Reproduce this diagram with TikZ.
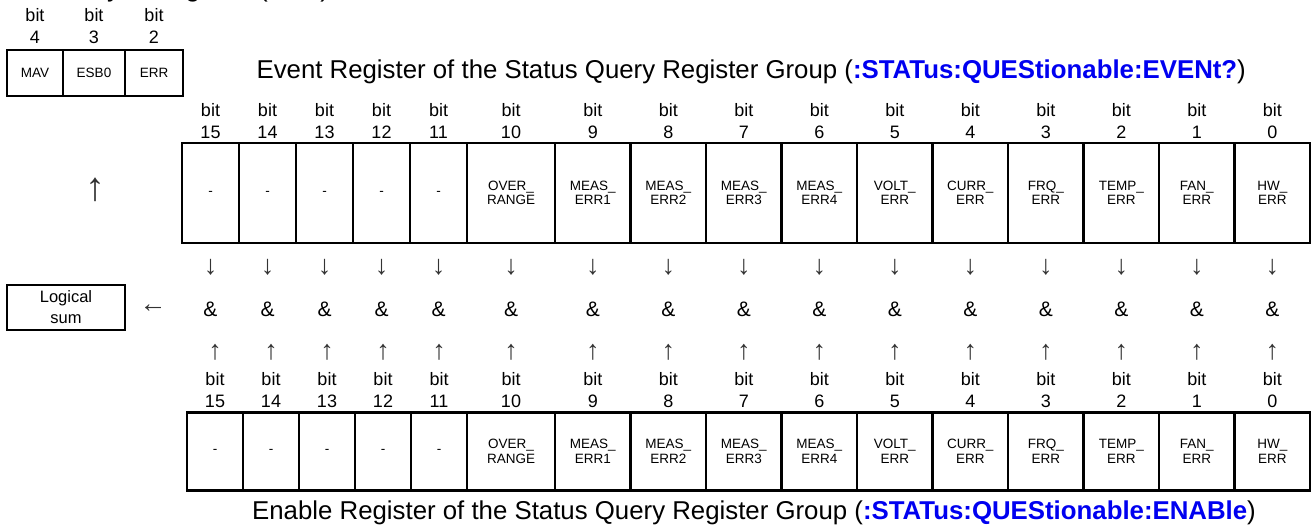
\documentclass[tikz,border=0pt]{standalone}
\usepackage{fontspec}
\setmainfont{Liberation Sans}
\definecolor{cmdblue}{RGB}{0,0,240}
\newcommand\myfs[2]{\fontsize{#1}{#2}\selectfont}
\begin{document}
\begin{tikzpicture}[x=1pt,y=-1pt,
  cell/.style={draw, line width=2.6pt, inner sep=0pt, align=center, font=\myfs{13.5}{14.5}},
  bitlbl/.style={align=center, font=\myfs{18}{22}, inner sep=0pt},
  glyph/.style={font=\myfs{27}{28}, inner sep=0pt, text=black!80},
  amp/.style={font=\myfs{21}{22}, inner sep=0pt},
  heading/.style={font=\myfs{25.8}{28}, inner sep=0pt, anchor=east}
]
\useasboundingbox (0,0) rectangle (1311,530);

% clipped title at the very top
\node[anchor=base west, inner sep=0pt, font=\myfs{27}{30}] (stbtitle) at (5,-4) {Status Byte Register (STB)};

% status byte bits
\foreach \l/\r/\b/\t in {7/63/4/MAV, 63/125/3/ESB0, 125/183/2/ERR}{
  \node[cell, minimum width={\r-\l}, minimum height=46] (s\b) at ({(\l+\r)/2},73) {\t};
  \node[bitlbl] (sb\b) at ({(\l+\r)/2},26) {bit\\\b};
}

% headings
\node[heading] (evhead) at (1246,72) {Event Register of the Status Query Register Group (\textcolor{cmdblue}{\bfseries :STATus:QUEStionable:EVENt?})};
\node[heading] (enhead) at (1256,513) {Enable Register of the Status Query Register Group (\textcolor{cmdblue}{\bfseries :STATus:QUEStionable:ENABle})};

% event register cells
\foreach \l/\r/\b/\t in {
  182/239/15/-, 239/296/14/-, 296/353/13/-, 353/410/12/-, 410/467/11/-,
  467/555/10/OVER\_\\RANGE, 555/630.5/9/MEAS\_\\ERR1, 630.5/706/8/MEAS\_\\ERR2,
  706/781.5/7/MEAS\_\\ERR3, 781.5/857/6/MEAS\_\\ERR4, 857/932.5/5/VOLT\_\\ERR,
  932.5/1008/4/CURR\_\\ERR, 1008/1083.5/3/FRQ\_\\ERR, 1083.5/1159/2/TEMP\_\\ERR,
  1159/1234.5/1/FAN\_\\ERR, 1234.5/1310/0/HW\_\\ERR}{
  \node[cell, minimum width={\r-\l}, minimum height=100] (e\b) at ({(\l+\r)/2},193) {\t};
  \node[bitlbl] (eb\b) at ({(\l+\r)/2},121) {bit\\\b};
  \node[glyph] (ed\b) at ({(\l+\r)/2},267) {↓};
  \node[amp] (and\b) at ({(\l+\r)/2},309) {\&};
}

% enable register cells
\foreach \l/\r/\b/\t in {
  187/243/15/-, 243/299/14/-, 299/355/13/-, 355/411/12/-, 411/467/11/-,
  467/555/10/OVER\_\\RANGE, 555/630.5/9/MEAS\_\\ERR1, 630.5/706/8/MEAS\_\\ERR2,
  706/781.5/7/MEAS\_\\ERR3, 781.5/857/6/MEAS\_\\ERR4, 857/932.5/5/VOLT\_\\ERR,
  932.5/1008/4/CURR\_\\ERR, 1008/1083.5/3/FRQ\_\\ERR, 1083.5/1159/2/TEMP\_\\ERR,
  1159/1234.5/1/FAN\_\\ERR, 1234.5/1310/0/HW\_\\ERR}{
  \node[cell, minimum width={\r-\l}, minimum height=78] (n\b) at ({(\l+\r)/2},451.5) {\t};
  \node[bitlbl] (nb\b) at ({(\l+\r)/2},390) {bit\\\b};
  \node[glyph] (nu\b) at ({(\l+\r)/2},352) {↑};
}

% logical sum
\node[cell, font=\myfs{16.5}{21}, minimum width=118, minimum height=45] (lsum) at (66,307.5) {Logical\\sum};
\node[glyph] (larrow) at (153,309) {←};
\node[glyph, font=\myfs{40}{40}] (uparrow) at (95,190) {↑};
\end{tikzpicture}
\end{document}
